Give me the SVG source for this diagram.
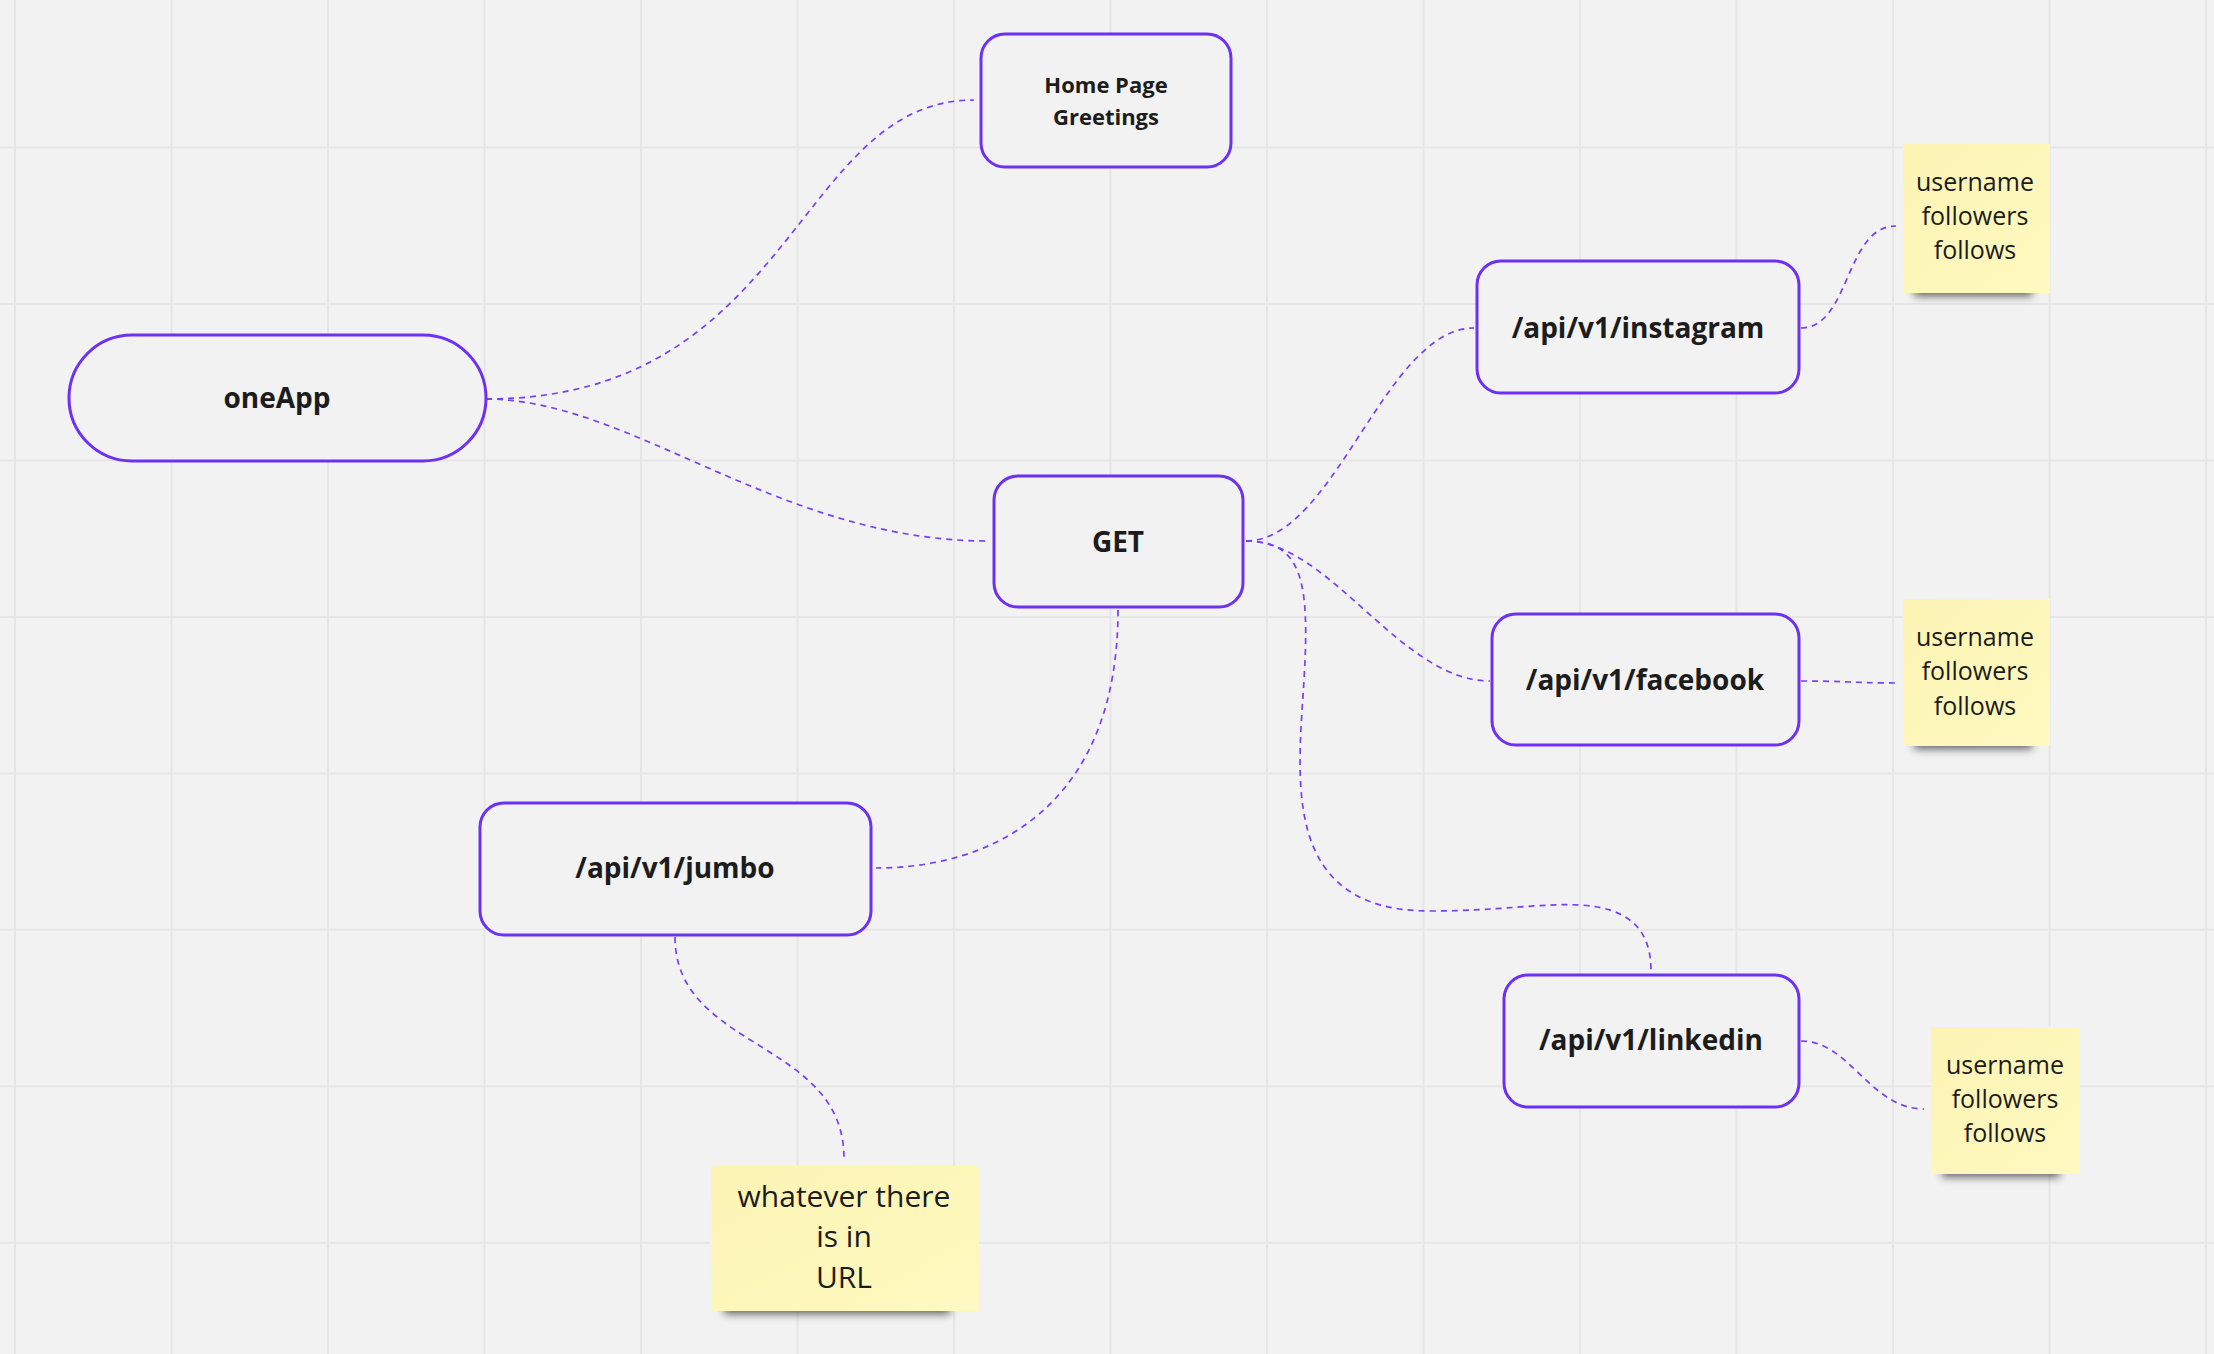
<svg xmlns="http://www.w3.org/2000/svg" width="2214" height="1354" viewBox="0 0 2214 1354">
<defs>
<style>
.grid{stroke:#e6e6e6;stroke-width:2;fill:none}
.node{fill:#f2f2f2;stroke:#6c31f2;stroke-width:3}
.lbl{font-family:"Open Sans","Noto Sans","Liberation Sans",sans-serif;font-weight:700;fill:#1c1c1c;text-anchor:middle}
.big{font-size:28px}
.small{font-size:22px}
.conn{fill:none;stroke:#7740f5;stroke-width:1.7;stroke-dasharray:6 5}
.note{fill:url(#noteGrad)}
.ntxt{font-family:"Open Sans","Noto Sans","Liberation Sans",sans-serif;font-size:25px;fill:#1c1c1c;text-anchor:middle}
.shadow{fill:#000;opacity:0.6;filter:url(#blur)}
</style>
<linearGradient id="noteGrad" x1="0" y1="0" x2="1" y2="1">
<stop offset="0" stop-color="#fcf4b4"/>
<stop offset="1" stop-color="#fef9c0"/>
</linearGradient>
<filter id="blur" x="-20%" y="-150%" width="140%" height="400%">
<feGaussianBlur stdDeviation="4.5"/>
</filter>
</defs>
<rect x="0" y="0" width="2214" height="1354" fill="#f2f2f2"/>
<path class="grid" d="M15,0V1354 M171.5,0V1354 M328,0V1354 M484.5,0V1354 M641,0V1354 M797.5,0V1354 M954,0V1354 M1110.5,0V1354 M1267,0V1354 M1423.5,0V1354 M1580,0V1354 M1736.5,0V1354 M1893,0V1354 M2049.5,0V1354 M2206,0V1354 M0,147.6H2214 M0,304H2214 M0,460.5H2214 M0,616.9H2214 M0,773.4H2214 M0,929.8H2214 M0,1086.2H2214 M0,1242.7H2214"/>
<g id="connectors">
<path class="conn" d="M486,399 C795,399 795,100 974,100"/>
<path class="conn" d="M486,399 C631,399 779,541 988,541"/>
<path class="conn" d="M1118,610 C1118,800 1000,868 876,868"/>
<path class="conn" d="M1246,541 C1335,541 1385,328 1474,328"/>
<path class="conn" d="M1246,541 C1330,541 1400,681 1490,681"/>
<path class="conn" d="M1246,541 C1302,541 1310,580 1304,680 C1298,780 1280,911 1430,911 C1500,911 1540,903 1580,905 C1630,908 1651,930 1651,971"/>
<path class="conn" d="M675,937 C675,1050 844,1040 844,1158"/>
<path class="conn" d="M1801,328 C1850,328 1845,226 1896,226"/>
<path class="conn" d="M1801,681 C1850,681 1850,683 1898,683"/>
<path class="conn" d="M1801,1041 C1850,1041 1870,1109 1924,1109"/>
</g>
<g id="oneApp">
<rect class="node" x="69" y="335" width="417" height="126" rx="63"/>
<text class="lbl big" x="277" y="408">oneApp</text>
</g>
<g id="homePage">
<rect class="node" x="981" y="34" width="250" height="133" rx="24"/>
<text class="lbl small" x="1106" y="93">Home Page</text>
<text class="lbl small" x="1106" y="125">Greetings</text>
</g>
<g id="get">
<rect class="node" x="994" y="476" width="249" height="131" rx="24"/>
<text class="lbl big" x="1118" y="552">GET</text>
</g>
<g id="instagram">
<rect class="node" x="1477" y="261" width="322" height="132" rx="24"/>
<text class="lbl big" x="1638" y="338">/api/v1/instagram</text>
</g>
<g id="facebook">
<rect class="node" x="1492" y="614" width="307" height="131" rx="24"/>
<text class="lbl big" x="1645" y="690">/api/v1/facebook</text>
</g>
<g id="linkedin">
<rect class="node" x="1504" y="975" width="295" height="132" rx="24"/>
<text class="lbl big" x="1651" y="1050">/api/v1/linkedin</text>
</g>
<g id="jumbo">
<rect class="node" x="480" y="803" width="391" height="132" rx="24"/>
<text class="lbl big" x="675" y="878">/api/v1/jumbo</text>
</g>
<g id="noteInstagram">
<rect class="shadow" x="1914" y="284" width="118" height="12"/>
<rect class="note" x="1903" y="144" width="147" height="149"/>
<text class="ntxt" x="1975" y="191">username</text>
<text class="ntxt" x="1975" y="225">followers</text>
<text class="ntxt" x="1975" y="259">follows</text>
</g>
<g id="noteFacebook">
<rect class="shadow" x="1914" y="737" width="118" height="12"/>
<rect class="note" x="1903" y="599" width="147" height="147"/>
<text class="ntxt" x="1975" y="646">username</text>
<text class="ntxt" x="1975" y="680">followers</text>
<text class="ntxt" x="1975" y="715">follows</text>
</g>
<g id="noteLinkedin">
<rect class="shadow" x="1942" y="1165" width="118" height="12"/>
<rect class="note" x="1931" y="1027" width="149" height="147"/>
<text class="ntxt" x="2005" y="1074">username</text>
<text class="ntxt" x="2005" y="1108">followers</text>
<text class="ntxt" x="2005" y="1142">follows</text>
</g>
<g id="noteJumbo">
<rect class="shadow" x="724" y="1302" width="226" height="12"/>
<rect class="note" x="711" y="1166" width="268" height="145"/>
<text class="ntxt" x="844" y="1207" style="font-size:30px">whatever there</text>
<text class="ntxt" x="844" y="1247" style="font-size:30px">is in</text>
<text class="ntxt" x="844" y="1288" style="font-size:30px">URL</text>
</g>
</svg>
